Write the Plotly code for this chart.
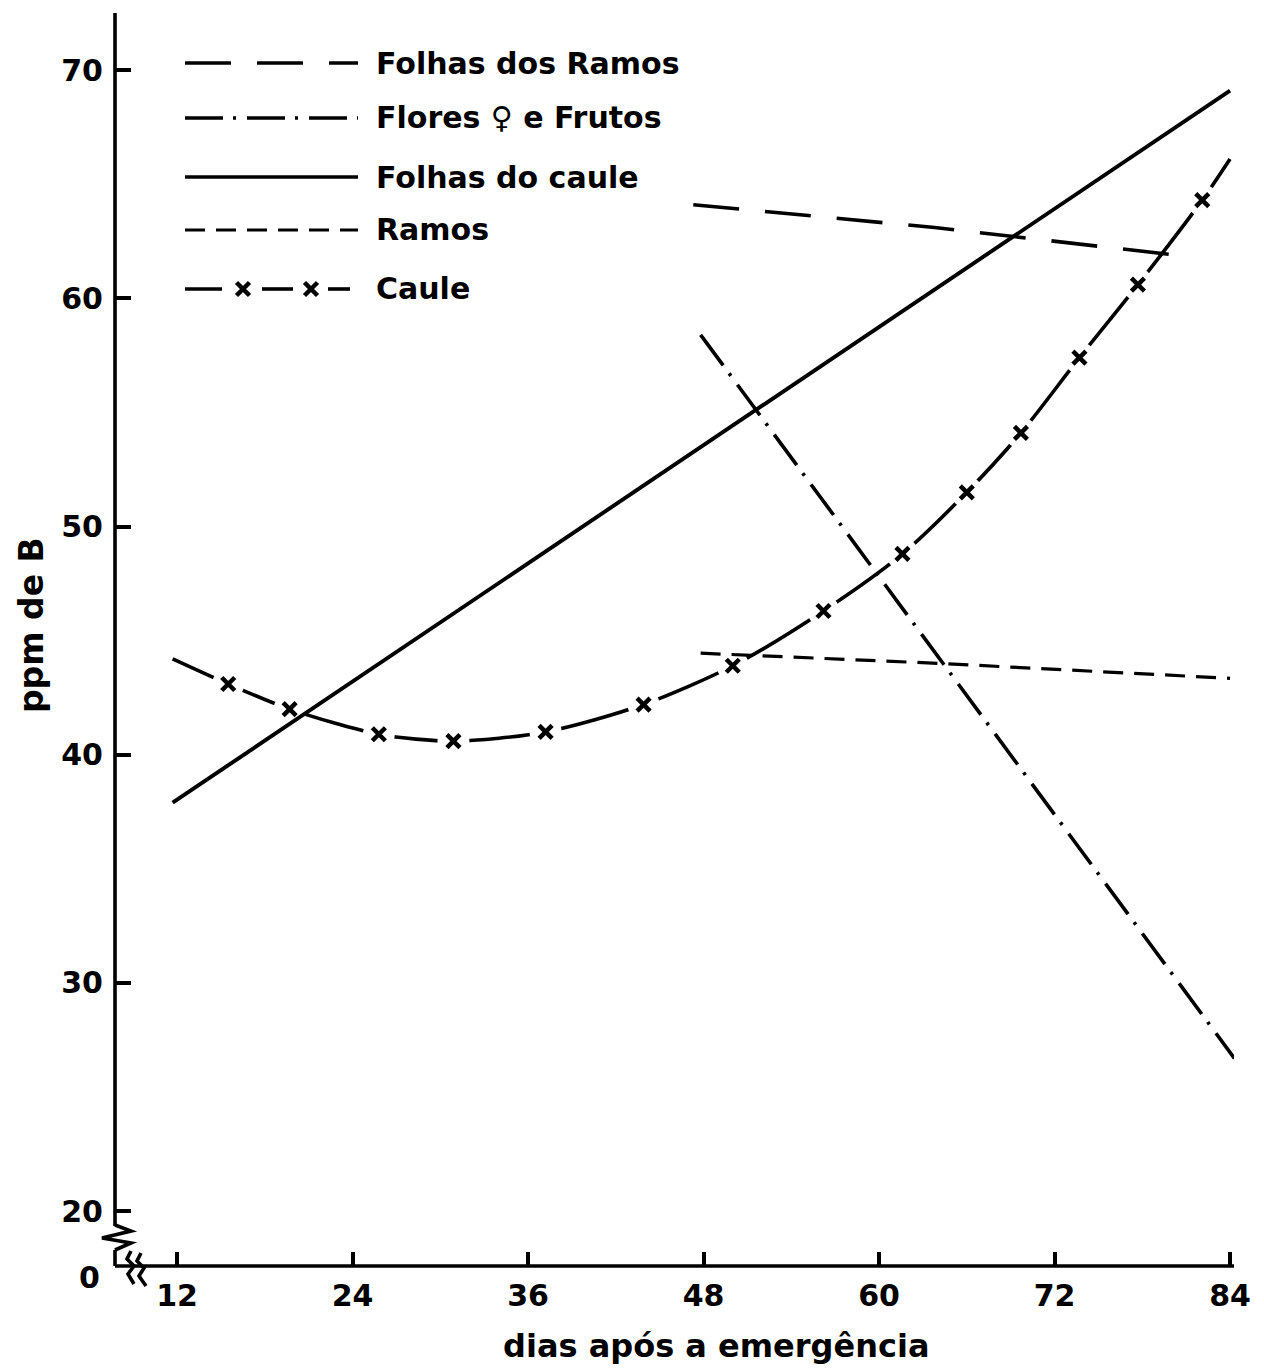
import plotly.graph_objects as go

# ---- data: teor de boro (ppm) ao longo do ciclo ----
dias_folhas_ramos = [47.3, 63.8, 80.2]
ppm_folhas_ramos = [64.1, 63.1, 61.9]

dias_flores_frutos = [47.8, 84.3]
ppm_flores_frutos = [58.4, 26.7]

dias_folhas_caule = [11.7, 84.0]
ppm_folhas_caule = [37.9, 69.1]

dias_ramos = [47.8, 64.2, 84.0]
ppm_ramos = [44.45, 44.0, 43.35]

dias_caule = [11.7, 15.5, 19.7, 25.8, 30.9, 37.2, 43.9, 50.0, 56.2, 61.6, 66.0, 69.7, 73.7, 77.7, 82.1, 84.0]
ppm_caule = [44.2, 43.1, 42.0, 40.9, 40.6, 41.0, 42.2, 43.9, 46.3, 48.8, 51.5, 54.1, 57.4, 60.6, 64.3, 66.1]

x_ticks = [12, 24, 36, 48, 60, 72, 84]
y_ticks = [20, 30, 40, 50, 60, 70]

legend_names = ["Folhas dos Ramos", "Flores \u2640 e Frutos", "Folhas do caule", "Ramos", "Caule"]
x_title = "dias após a emergência"
y_title = "ppm de B"

# ---- page geometry (pixels) ----
FIG_W, FIG_H = 1264, 1369
M_L, M_R, M_T, M_B = 115, 30, 13, 103
PW = FIG_W - M_L - M_R
PH = FIG_H - M_T - M_B
FONT = "DejaVu Sans"
INK = "black"
LW = 3.6

DASH_LONG = "46px,26px"
DASH_SHORT = "20px,11px"
DASH_DOT = "38px,10px,3px,11px"


def u(px):
    """pixel x -> paper x"""
    return (px - M_L) / PW


def v(py):
    """pixel y -> paper y"""
    return (FIG_H - M_B - py) / PH


fig = go.Figure()

# Caule: smooth curve (bottom layer), white discs open gaps around its markers
fig.add_trace(go.Scatter(x=dias_caule, y=ppm_caule, mode="lines", zorder=0,
                         line=dict(color=INK, width=LW, shape="spline", smoothing=0.8),
                         hoverinfo="skip"))
fig.add_trace(go.Scatter(x=dias_caule[1:-1], y=ppm_caule[1:-1], mode="markers", zorder=1,
                         marker=dict(symbol="circle", size=32, color="white",
                                     line=dict(width=0)),
                         hoverinfo="skip"))

fig.add_trace(go.Scatter(x=dias_folhas_ramos, y=ppm_folhas_ramos, mode="lines", zorder=2,
                         line=dict(color=INK, width=LW, dash=DASH_LONG)))
fig.add_trace(go.Scatter(x=dias_flores_frutos, y=ppm_flores_frutos, mode="lines", zorder=2,
                         line=dict(color=INK, width=LW, dash=DASH_DOT)))
fig.add_trace(go.Scatter(x=dias_folhas_caule, y=ppm_folhas_caule, mode="lines", zorder=2,
                         line=dict(color=INK, width=LW + 0.3)))
fig.add_trace(go.Scatter(x=dias_ramos, y=ppm_ramos, mode="lines", zorder=2,
                         line=dict(color=INK, width=LW - 0.4, dash=DASH_SHORT)))

fig.add_trace(go.Scatter(x=dias_caule[1:-1], y=ppm_caule[1:-1], mode="markers", zorder=3,
                         marker=dict(symbol="x-thin", size=13, color=INK,
                                     line=dict(width=4.5, color=INK))))

# ---- key drawn inside the plot (overlay axes in 0..1 units) ----
key_rows = [63, 118, 177, 230, 289]
key_x0, key_x1, key_text = 185, 358, 374
key_styles = [dict(dash=DASH_LONG, width=LW), dict(dash=DASH_DOT, width=LW),
              dict(dash="solid", width=LW), dict(dash=DASH_SHORT, width=LW - 0.4)]
for row, style in zip(key_rows[:4], key_styles):
    fig.add_trace(go.Scatter(x=[u(key_x0), u(key_x1)], y=[v(row), v(row)], mode="lines",
                             xaxis="x2", yaxis="y2", line=dict(color=INK, **style),
                             hoverinfo="skip"))
cy = key_rows[4]
fig.add_trace(go.Scatter(x=[u(185), u(222), None, u(262), u(293), None, u(328), u(350)],
                         y=[v(cy), v(cy), None, v(cy), v(cy), None, v(cy), v(cy)],
                         mode="lines", xaxis="x2", yaxis="y2",
                         line=dict(color=INK, width=LW), hoverinfo="skip"))
fig.add_trace(go.Scatter(x=[u(243), u(311)], y=[v(cy), v(cy)], mode="markers",
                         xaxis="x2", yaxis="y2",
                         marker=dict(symbol="x-thin", size=13, color=INK,
                                     line=dict(width=4.5, color=INK)),
                         hoverinfo="skip"))

TEXT_FONT = dict(family=FONT, size=30, color=INK, weight="bold")
annotations = []
for row, name in zip(key_rows, legend_names):
    annotations.append(dict(xref="paper", yref="paper", x=u(key_text), y=v(row),
                            text=name, showarrow=False, xanchor="left", yanchor="middle",
                            font=TEXT_FONT))
# axis titles and the "0" at the broken origin
annotations.append(dict(xref="paper", yref="paper", x=u(716), y=v(1346), text=x_title,
                        showarrow=False, xanchor="center", yanchor="middle",
                        font=dict(family=FONT, size=32, color=INK, weight="bold")))
annotations.append(dict(xref="paper", yref="paper", x=u(31), y=v(625), text=y_title,
                        textangle=-90, showarrow=False, xanchor="center", yanchor="middle",
                        font=dict(family=FONT, size=33, color=INK, weight="bold")))
annotations.append(dict(xref="paper", yref="paper", x=u(102), y=v(1277), text="0",
                        showarrow=False, xanchor="right", yanchor="middle",
                        font=TEXT_FONT))


# ---- axis lines and axis breaks ----
def path(points):
    return "M" + " L".join(f"{u(x):.5f},{v(y):.5f}" for x, y in points)


shapes = [
    # frame: left (y) and bottom (x) axis lines
    dict(type="line", xref="paper", yref="paper", x0=0, x1=0, y0=0, y1=1,
         line=dict(color=INK, width=LW), layer="above"),
    dict(type="line", xref="paper", yref="paper", x0=0, x1=1, y0=0, y1=0,
         line=dict(color=INK, width=LW), layer="above"),
    # gap in the y axis
    dict(type="rect", xref="paper", yref="paper", x0=u(108), x1=u(122), y0=v(1250), y1=v(1226),
         fillcolor="white", line=dict(width=0), layer="above"),
    dict(type="path", xref="paper", yref="paper", layer="above",
         path=path([(115, 1225), (131, 1231), (102, 1238), (131, 1243), (115, 1250)]),
         line=dict(color=INK, width=LW)),
    # double wavy break on the x axis
    dict(type="path", xref="paper", yref="paper", layer="above",
         path=path([(131, 1251), (127, 1259), (134, 1266), (128, 1274), (134, 1284)]),
         line=dict(color=INK, width=LW)),
    dict(type="path", xref="paper", yref="paper", layer="above",
         path=path([(141, 1253), (137, 1261), (144, 1268), (139, 1276), (146, 1286)]),
         line=dict(color=INK, width=LW)),
]

fig.update_layout(
    width=FIG_W, height=FIG_H,
    margin=dict(l=M_L, r=M_R, t=M_T, b=M_B, pad=0),
    paper_bgcolor="white", plot_bgcolor="rgba(0,0,0,0)",
    showlegend=False,
    font=dict(family=FONT, color=INK),
    annotations=annotations,
    shapes=shapes,
    xaxis=dict(range=[7.76, 84.27], tickvals=x_ticks, ticks="inside", ticklen=14, tickwidth=3.5,
               tickcolor=INK, showline=False, showgrid=False,
               zeroline=False, ticklabelstandoff=9, tickfont=TEXT_FONT),
    yaxis=dict(range=[17.6, 72.5], tickvals=y_ticks,
               ticks="inside", ticklen=16, tickwidth=3.5, tickcolor=INK,
               showline=False, showgrid=False, zeroline=False,
               ticklabelstandoff=11, tickfont=TEXT_FONT),
    xaxis2=dict(overlaying="x", range=[0, 1], visible=False),
    yaxis2=dict(overlaying="y", range=[0, 1], visible=False),
)

fig.write_html("out.html")
